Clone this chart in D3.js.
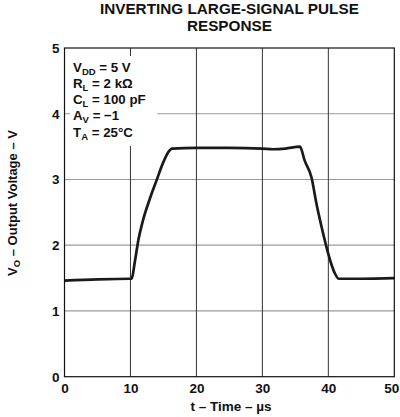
<!DOCTYPE html>
<html lang="en">
<head>
  <meta charset="utf-8">
  <title>Inverting Large-Signal Pulse Response</title>
  <script src="https://cdnjs.cloudflare.com/ajax/libs/d3/7.8.5/d3.min.js"></script>
  <style>
    body { margin: 0; background: #fff; }
    svg { display: block; font-family: "Liberation Sans", Arial, sans-serif; font-weight: bold; }
    .grid-h line { stroke: #9a9a9a; stroke-width: 1.2; }
    .grid-v line { stroke: #333; stroke-width: 1; }
    .axis text { font-size: 13.5px; font-weight: bold; fill: #111; font-family: "Liberation Sans", Arial, sans-serif; }
    .axis path, .axis line { display: none; }
    .curve { fill: none; stroke: #1a1a1a; stroke-width: 2.7; stroke-linejoin: round; }
  </style>
</head>
<body>
<svg id="chart" width="400" height="417"></svg>
<script>
// output voltage trace
var timeUs = [0, 5, 9.9, 10.15, 10.7, 11.2, 11.9, 12.95, 13.97, 14.97, 15.7, 16.3, 20, 25, 30, 31.6, 33.5, 35.7, 36.4, 37.45, 38.2, 38.97, 39.7, 40.5, 41.0, 41.6, 45, 50];
var voltage = [1.46, 1.48, 1.49, 1.49, 1.77, 2.08, 2.38, 2.71, 2.99, 3.26, 3.41, 3.47, 3.48, 3.48, 3.47, 3.46, 3.47, 3.5, 3.29, 3.03, 2.63, 2.28, 1.98, 1.70, 1.57, 1.49, 1.49, 1.50];

var xTicks = [0, 10, 20, 30, 40, 50];
var yTicks = [0, 1, 2, 3, 4, 5];

var titleLines = ["INVERTING LARGE-SIGNAL PULSE", "RESPONSE"];

var conditions = [
  ["V", "DD", " = 5 V"],
  ["R", "L", " = 2 kΩ"],
  ["C", "L", " = 100 pF"],
  ["A", "V", " = −1"],
  ["T", "A", " = 25°C"]
];

var margin = { top: 48, right: 5.7, bottom: 40.3, left: 64.5 },
  width = 400 - margin.left - margin.right,
  height = 417 - margin.top - margin.bottom;

var svg = d3.select("#chart");
var g = svg.append("g")
  .attr("transform", "translate(" + margin.left + "," + margin.top + ")");

var x = d3.scaleLinear().domain([0, 50]).range([0, width]);
var y = d3.scaleLinear().domain([0, 5]).range([height, 0]);

// grid
g.append("g").attr("class", "grid-h")
  .selectAll("line").data(yTicks.slice(1, -1)).join("line")
  .attr("x1", 0).attr("x2", width)
  .attr("y1", d => y(d)).attr("y2", d => y(d));

g.append("g").attr("class", "grid-v")
  .selectAll("line").data(xTicks.slice(1, -1)).join("line")
  .attr("y1", 0).attr("y2", height)
  .attr("x1", d => x(d)).attr("x2", d => x(d));

// white box behind the test conditions
g.append("rect")
  .attr("x", 5.5).attr("y", 8)
  .attr("width", 87).attr("height", 90)
  .attr("fill", "#fff");

conditions.forEach(function (c, i) {
  var t = g.append("text")
    .attr("x", 8.5)
    .attr("y", 23.7 + i * 16.2)
    .attr("font-size", 13.3)
    .attr("fill", "#111");
  t.append("tspan").text(c[0]);
  t.append("tspan").attr("font-size", 9.5).attr("dy", 3).text(c[1]);
  t.append("tspan").attr("dy", -3).text(c[2]);
});

// axes
var xAxis = g.append("g").attr("class", "axis")
  .attr("transform", "translate(0," + height + ")")
  .call(d3.axisBottom(x).tickValues(xTicks).tickSize(0).tickPadding(7).tickFormat(d3.format("d")));
// keep the last label inside the page
xAxis.selectAll(".tick:last-of-type text").attr("dx", -3);

g.append("g").attr("class", "axis")
  .call(d3.axisLeft(y).tickValues(yTicks).tickSize(0).tickPadding(5).tickFormat(d3.format("d")));

// trace
var line = d3.line()
  .x((d, i) => x(timeUs[i]))
  .y(d => y(d))
  .curve(d3.curveMonotoneX);

g.append("path")
  .datum(voltage)
  .attr("class", "curve")
  .attr("d", line);

// frame
g.append("rect")
  .attr("width", width).attr("height", height)
  .attr("fill", "none").attr("stroke", "#111").attr("stroke-width", 1.2);

// title
svg.append("g").selectAll("text").data(titleLines).join("text")
  .attr("x", margin.left + width / 2)
  .attr("y", (d, i) => 13.6 + i * 17.8)
  .attr("text-anchor", "middle")
  .attr("font-size", 15.3)
  .attr("fill", "#111")
  .text(d => d);

// axis titles
svg.append("text")
  .attr("x", 231)
  .attr("y", 410.8)
  .attr("text-anchor", "middle")
  .attr("font-size", 13.5)
  .attr("fill", "#111")
  .text("t – Time – µs");

var yl = svg.append("text")
  .attr("transform", "translate(17,203) rotate(-90)")
  .attr("text-anchor", "middle")
  .attr("font-size", 13)
  .attr("fill", "#111");
yl.append("tspan").text("V");
yl.append("tspan").attr("font-size", 9.5).attr("dy", 3).text("O");
yl.append("tspan").attr("dy", -3).text(" – Output Voltage – V");
</script>
</body>
</html>
